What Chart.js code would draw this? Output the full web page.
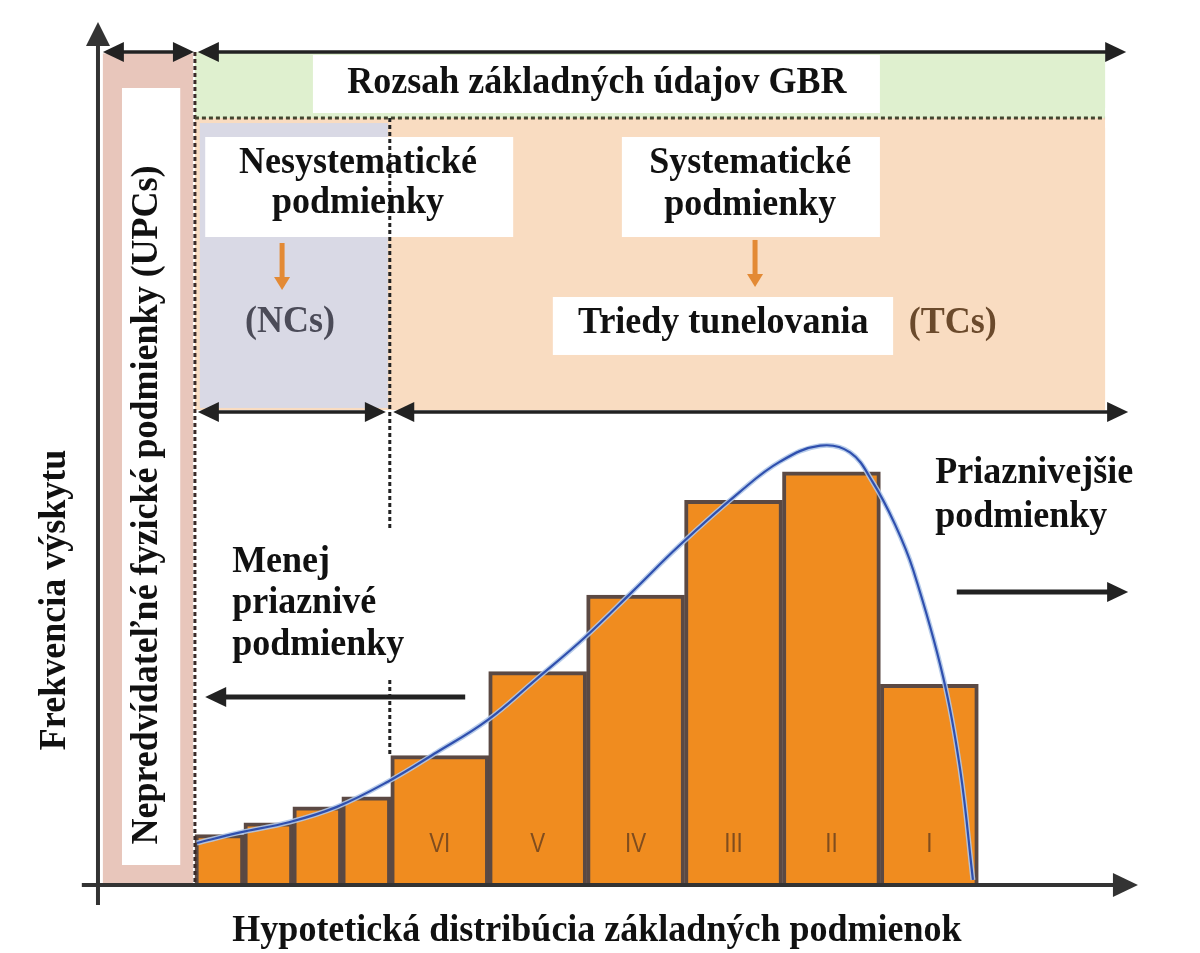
<!DOCTYPE html>
<html>
<head>
<meta charset="utf-8">
<script src="https://cdn.jsdelivr.net/npm/chart.js@4.4.0/dist/chart.umd.min.js"></script>
<style>body{margin:0;background:#fff}</style>
</head>
<body>
<canvas id="chart" width="1200" height="953"></canvas>
<script>
// narrow classes on the left (no label)
const narrowX = [2.5, 3.5, 4.5, 5.5];
const narrowFreq = [6.0, 7.4, 9.3, 10.5];
// tunnelling classes VI..I
const classX = [7, 9, 11, 13, 15, 17];
const classFreq = [15.4, 25.4, 34.5, 45.8, 49.2, 23.9];
const classNames = ['VI', 'V', 'IV', 'III', 'II', 'I'];
// fitted distribution curve
const curveX = [2.04, 2.88, 3.94, 4.90, 5.94, 6.94, 7.97, 8.95, 9.95, 10.93, 11.91, 13.13, 13.95, 14.77, 15.38, 15.85, 16.30, 16.67, 17.28, 17.63, 17.89];
const curveY = [5.0, 6.2, 7.5, 9.3, 12.3, 15.8, 19.6, 24.4, 29.4, 34.9, 40.5, 46.8, 50.4, 52.3, 51.5, 47.9, 42.9, 37.5, 24.8, 13.7, 0.6];

const SERIF = '"Liberation Serif", "Times New Roman", serif';

function pts(xs, ys) {
    return xs.map((x, i) => ({x: x, y: ys[i]}));
}

function arrowHead(ctx, x1, y1, x2, y2, len, half) {
    let a = Math.atan2(y2 - y1, x2 - x1);
    ctx.beginPath();
    ctx.moveTo(x2, y2);
    ctx.lineTo(x2 - len * Math.cos(a) + half * Math.sin(a), y2 - len * Math.sin(a) - half * Math.cos(a));
    ctx.lineTo(x2 - len * Math.cos(a) - half * Math.sin(a), y2 - len * Math.sin(a) + half * Math.cos(a));
    ctx.closePath();
    ctx.fill();
}

function arrow(ctx, x1, y1, x2, y2, o) {
    ctx.save();
    ctx.strokeStyle = o.color;
    ctx.fillStyle = o.color;
    ctx.lineWidth = o.width;
    let a = Math.atan2(y2 - y1, x2 - x1);
    let sx = x1, sy = y1, ex = x2, ey = y2;
    if (o.start) { sx += o.len * 0.8 * Math.cos(a); sy += o.len * 0.8 * Math.sin(a); }
    if (o.end) { ex -= o.len * 0.8 * Math.cos(a); ey -= o.len * 0.8 * Math.sin(a); }
    ctx.beginPath();
    ctx.moveTo(sx, sy);
    ctx.lineTo(ex, ey);
    ctx.stroke();
    if (o.end) arrowHead(ctx, x1, y1, x2, y2, o.len, o.half);
    if (o.start) arrowHead(ctx, x2, y2, x1, y1, o.len, o.half);
    ctx.restore();
}

function dotted(ctx, x1, y1, x2, y2, color) {
    ctx.save();
    ctx.strokeStyle = color;
    ctx.lineWidth = 3;
    ctx.setLineDash([4, 3]);
    ctx.beginPath();
    ctx.moveTo(x1, y1);
    ctx.lineTo(x2, y2);
    ctx.stroke();
    ctx.restore();
}

function text(ctx, t, x, y, o) {
    ctx.save();
    ctx.translate(x, y);
    if (o.rot) ctx.rotate(o.rot);
    ctx.scale(o.sx || 1, o.sy || 1.05);
    ctx.font = o.font || ('bold 36px ' + SERIF);
    ctx.fillStyle = o.color || '#111';
    ctx.textAlign = o.align || 'center';
    ctx.textBaseline = 'alphabetic';
    ctx.fillText(t, 0, 0);
    ctx.restore();
}

// shaded zones behind the histogram
const backdrop = {
    id: 'backdrop',
    beforeDatasetsDraw(chart) {
        const ctx = chart.ctx;
        const X = v => chart.scales.x.getPixelForValue(v);
        const Y = v => chart.scales.y.getPixelForValue(v);
        const rect = (x1, y1, x2, y2, c) => {
            ctx.fillStyle = c;
            ctx.fillRect(X(x1), Y(y1), X(x2) - X(x1), Y(y2) - Y(y1));
        };
        rect(0.12, 99.0, 1.96, 0, '#e8c6bb');
        rect(0.51, 94.88, 1.70, 2.38, '#ffffff');
        rect(2.0, 99.17, 20.59, 91.31, '#dff0cf');
        rect(2.0, 91.31, 20.59, 56.55, '#f9dcc1');
        rect(2.10, 90.71, 5.94, 56.79, '#d9d9e5');
        rect(4.41, 98.81, 15.99, 91.90, '#ffffff');
        rect(2.21, 89.05, 8.50, 77.14, '#ffffff');
        rect(10.72, 89.05, 15.99, 77.14, '#ffffff');
        rect(9.31, 70.0, 16.26, 63.10, '#ffffff');
    }
};

// axes, arrows and labels
const overlay = {
    id: 'overlay',
    afterDatasetsDraw(chart) {
        const ctx = chart.ctx;
        const X = v => chart.scales.x.getPixelForValue(v);
        const Y = v => chart.scales.y.getPixelForValue(v);
        const black = {color: '#222', width: 3.5, len: 21, half: 10};

        dotted(ctx, X(2.0), Y(99.17), X(2.0), Y(0), '#3a2a28');
        dotted(ctx, X(2.0), Y(91.31), X(20.59), Y(91.31), '#44442f');
        dotted(ctx, X(5.98), Y(91.31), X(5.98), Y(42.26), '#222');
        dotted(ctx, X(5.98), Y(24.40), X(5.98), Y(15.24), '#222');

        // axes
        arrow(ctx, X(0.02), Y(-2.38), X(0.02), Y(102.74), {color: '#333', width: 4, len: 24, half: 12, end: true});
        arrow(ctx, X(-0.31), Y(0), X(21.26), Y(0), {color: '#333', width: 4, len: 25, half: 12, end: true});

        // range arrows
        arrow(ctx, X(0.12), Y(99.17), X(1.98), Y(99.17), Object.assign({start: true, end: true}, black));
        arrow(ctx, X(2.06), Y(99.17), X(21.02), Y(99.17), Object.assign({start: true, end: true}, black));
        arrowHead(ctx, X(20.0), Y(91.31), X(21.02), Y(91.31), 21, 10);
        arrow(ctx, X(2.06), Y(56.31), X(5.90), Y(56.31), Object.assign({start: true, end: true}, black));
        arrow(ctx, X(6.05), Y(56.31), X(21.06), Y(56.31), Object.assign({start: true, end: true}, black));
        arrow(ctx, X(7.52), Y(22.38), X(2.21), Y(22.38), Object.assign({end: true}, black, {width: 5}));
        arrow(ctx, X(17.56), Y(34.88), X(21.06), Y(34.88), Object.assign({end: true}, black, {width: 5}));

        // orange arrows
        const orange = {color: '#e38a35', width: 5, len: 13, half: 8, end: true};
        arrow(ctx, X(3.78), Y(76.43), X(3.78), Y(70.83), orange);
        arrow(ctx, X(13.44), Y(76.79), X(13.44), Y(71.19), orange);

        // labels
        text(ctx, 'Rozsah základných údajov GBR', X(10.21), Y(94.29), {});
        text(ctx, 'Nesystematické', X(5.33), Y(84.76), {});
        text(ctx, 'podmienky', X(5.33), Y(80.0), {});
        text(ctx, 'Systematické', X(13.34), Y(84.76), {});
        text(ctx, 'podmienky', X(13.34), Y(79.76), {});
        text(ctx, '(NCs)', X(3.94), Y(65.83), {color: '#4b4b58'});
        text(ctx, 'Triedy tunelovania', X(12.79), Y(65.71), {});
        text(ctx, '(TCs)', X(17.48), Y(65.71), {color: '#6b4a2c'});
        text(ctx, 'Menej', X(2.76), Y(37.26), {align: 'left'});
        text(ctx, 'priaznivé', X(2.76), Y(32.38), {align: 'left'});
        text(ctx, 'podmienky', X(2.76), Y(27.38), {align: 'left'});
        text(ctx, 'Priaznivejšie', X(17.12), Y(47.86), {align: 'left'});
        text(ctx, 'podmienky', X(17.12), Y(42.62), {align: 'left'});
        text(ctx, 'Hypotetická distribúcia základných podmienok', X(10.21), Y(-6.67), {});
        text(ctx, 'Frekvencia výskytu', X(-0.65), Y(33.93), {rot: -Math.PI / 2});
        text(ctx, 'Nepredvídateľné fyzické podmienky (UPCs)', X(1.23), Y(45.24), {rot: -Math.PI / 2});

        classNames.forEach((n, i) => {
            text(ctx, n, chart.scales.x2.getPixelForValue(classX[i]), Y(3.93),
                {font: '28px "Liberation Sans", Arial, sans-serif', color: 'rgba(115,70,30,0.9)', sx: 0.8, sy: 1});
        });
    }
};

const noTicks = s => { s.ticks = []; };

const chart = new Chart(document.getElementById('chart'), {
    type: 'bar',
    data: {
        datasets: [
            {
                type: 'line',
                data: pts(curveX, curveY),
                xAxisID: 'x',
                borderColor: '#2f4fae',
                borderWidth: 2.2,
                pointRadius: 0,
                tension: 0.4,
                order: 0
            },
            {
                type: 'line',
                data: pts(curveX, curveY),
                xAxisID: 'x',
                borderColor: 'rgba(175,198,232,0.9)',
                borderWidth: 5,
                pointRadius: 0,
                tension: 0.4,
                order: 1
            },
            {
                data: pts(narrowX, narrowFreq),
                xAxisID: 'x',
                backgroundColor: '#f08c1f',
                borderColor: '#5b4943',
                borderWidth: 4,
                barPercentage: 1,
                categoryPercentage: 1,
                grouped: false,
                order: 2
            },
            {
                data: pts(classX, classFreq),
                xAxisID: 'x2',
                backgroundColor: '#f08c1f',
                borderColor: '#5b4943',
                borderWidth: 4,
                barPercentage: 1,
                categoryPercentage: 1,
                grouped: false,
                order: 3
            }
        ]
    },
    options: {
        responsive: false,
        animation: false,
        devicePixelRatio: 1,
        layout: {padding: {left: 97, right: 65, top: 45, bottom: 68}},
        plugins: {legend: {display: false}, tooltip: {enabled: false}},
        scales: {
            x: {type: 'linear', min: 0, max: 21.2, display: false, afterBuildTicks: noTicks},
            x2: {type: 'linear', min: 0, max: 21.2, display: false, afterBuildTicks: noTicks},
            y: {type: 'linear', min: 0, max: 100, display: false}
        }
    },
    plugins: [backdrop, overlay]
});
</script>
</body>
</html>
